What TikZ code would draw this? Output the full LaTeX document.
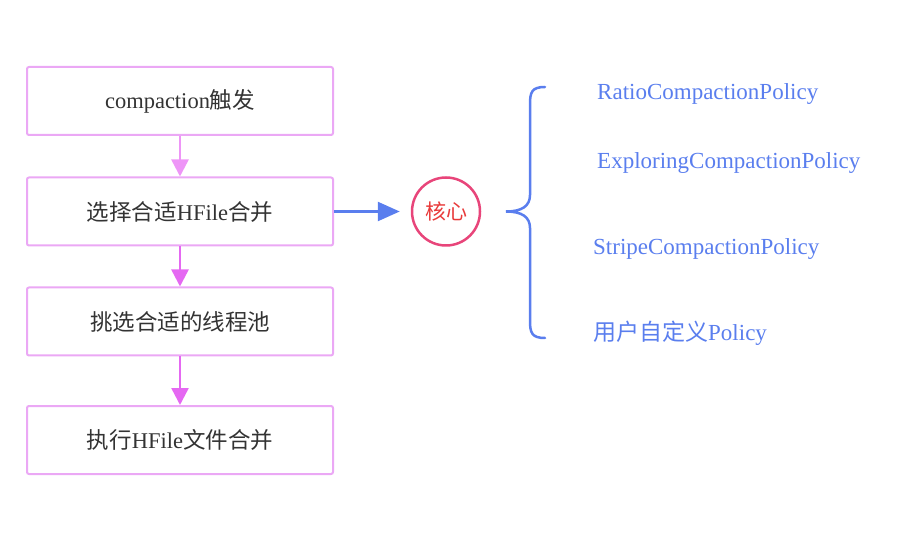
\documentclass[tikz,border=0pt]{standalone}
\usepackage{fontspec}
\setmainfont{Liberation Serif}
\newfontfamily\cjk{Noto Sans CJK SC}
\usetikzlibrary{arrows.meta}
\definecolor{boxc}{HTML}{EBA8F5}
\definecolor{arrA}{HTML}{EE95F7}
\definecolor{arrB}{HTML}{E568F2}
\definecolor{circc}{HTML}{E8457A}
\definecolor{redt}{HTML}{E83A3A}
\definecolor{bluec}{HTML}{5A7EEE}
\definecolor{txtc}{HTML}{333333}
\tikzset{
  stepbox/.style={draw=boxc, line width=2pt, rounded corners=2pt, minimum width=306pt, minimum height=68pt, inner sep=0pt, font=\fontsize{22.5}{26}\selectfont, text=txtc},
  pinkarrow/.style={line width=2.5pt, -{Triangle[length=17pt,width=17pt]}},
  policy/.style={anchor=west, text=bluec, font=\fontsize{23}{26}\selectfont, inner sep=0pt},
}
\begin{document}
\begin{tikzpicture}[x=1pt,y=-1pt]
\useasboundingbox (0,0) rectangle (910,534);
\node[stepbox] (b1) at (180,101) {compaction{\cjk 触发}};
\node[stepbox] (b2) at (180,211.5) {{\cjk 选择合适}HFile{\cjk 合并}};
\node[stepbox] (b3) at (180,321.5) {{\cjk 挑选合适的线程池}};
\node[stepbox] (b4) at (180,440) {{\cjk 执行}HFile{\cjk 文件合并}};
\draw[pinkarrow, draw=arrA, fill=arrA] (b1) -- (b2);
\draw[pinkarrow, draw=arrB, fill=arrB] (b2) -- (b3);
\draw[pinkarrow, draw=arrB, fill=arrB] (b3) -- (b4);
\node[circle, draw=circc, line width=2.5pt, minimum size=68pt, inner sep=0pt, text=redt, font=\cjk\fontsize{21}{24}\selectfont] (core) at (446,211.5) {核心};
\draw[bluec, line width=2.5pt, -{Triangle[length=22pt,width=19pt]}] (b2.east) -- ([xshift=-11pt]core.west);
\coordinate (bt) at (545,87);
\coordinate (bm) at (506,211.5);
\coordinate (bb) at (545,338);
\draw[bluec, line width=2.5pt, line cap=round] (bt) .. controls (532,87) and (530,92) .. (530,104) -- (530,195) .. controls (530,206) and (522,211.5) .. (bm) .. controls (522,211.5) and (530,217) .. (530,228) -- (530,321) .. controls (530,333) and (532,338) .. (bb);
\node[policy] (p1) at (597,94) {RatioCompactionPolicy};
\node[policy] (p2) at (597,163) {ExploringCompactionPolicy};
\node[policy] (p3) at (593,249) {StripeCompactionPolicy};
\node[policy] (p4) at (593,333) {{\cjk 用户自定义}Policy};
\end{tikzpicture}
\end{document}
